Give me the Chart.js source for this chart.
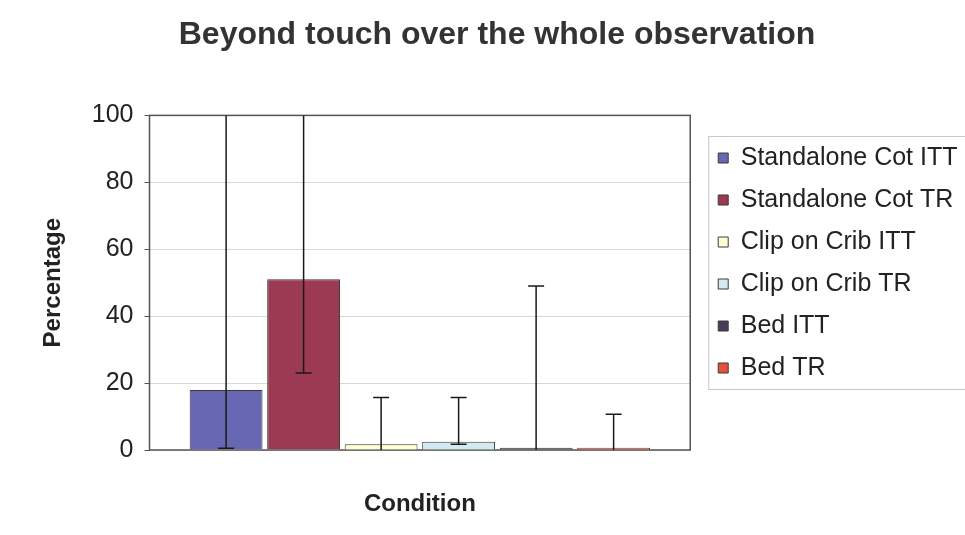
<!DOCTYPE html>
<html>
<head>
<meta charset="utf-8">
<script src="https://cdn.jsdelivr.net/npm/chart.js@4/dist/chart.umd.min.js"></script>
<style>
  html, body { margin: 0; padding: 0; background: #ffffff; }
  #wrap { width: 965px; height: 535px; }
</style>
</head>
<body>
<div id="wrap"><canvas id="myChart" width="965" height="535"></canvas></div>
<script>
// series names (one bar each, single category)
var conditions = ['Standalone Cot ITT', 'Standalone Cot TR', 'Clip on Crib ITT', 'Clip on Crib TR', 'Bed ITT', 'Bed TR'];
// bar heights (%)
var percentages = [17.9, 51.0, 1.7, 2.5, 0.7, 0.7];
// error bar ends (%)
var errorLow = [0.5, 23.0, 0.0, 1.7, 0.0, 0.0];
var errorHigh = [100, 100, 15.7, 15.7, 49.0, 10.7];
// y axis ticks
var yTicks = [0, 20, 40, 60, 80, 100];

var barColors = ['#6767b3', '#9b3a52', '#ffffd2', '#d2eaf0', '#4b3b58', '#e6503f'];

var FONT = "'Liberation Sans', Arial, sans-serif";

// ohraniceni grafu
var plotBorder = {
    id: 'plotBorder',
    beforeDatasetsDraw: function (chart) {
        var a = chart.chartArea;
        var ctx = chart.ctx;
        ctx.save();
        ctx.strokeStyle = '#555555';
        ctx.lineWidth = 1.5;
        ctx.strokeRect(a.left, a.top, a.right - a.left, a.bottom - a.top);
        ctx.restore();
    }
};

// chybove useky
var errorBars = {
    id: 'errorBars',
    afterDatasetsDraw: function (chart) {
        var ctx = chart.ctx;
        var y = chart.scales.y;
        ctx.save();
        ctx.strokeStyle = '#1a1a1a';
        ctx.lineWidth = 1.5;
        chart.data.datasets.forEach(function (ds, i) {
            var bar = chart.getDatasetMeta(i).data[0];
            if (!bar) return;
            var yl = y.getPixelForValue(errorLow[i]);
            var yh = y.getPixelForValue(errorHigh[i]);
            ctx.beginPath();
            ctx.moveTo(bar.x, yl);
            ctx.lineTo(bar.x, yh);
            if (errorHigh[i] < 100) {
                ctx.moveTo(bar.x - 8, yh);
                ctx.lineTo(bar.x + 8, yh);
            }
            if (errorLow[i] > 0) {
                ctx.moveTo(bar.x - 8, yl);
                ctx.lineTo(bar.x + 8, yl);
            }
            ctx.stroke();
        });
        ctx.restore();
    }
};

// sirka legendy doladena rucne
var legendWidth = {
    id: 'legendWidth',
    afterInit: function (chart) {
        var lg = chart.legend;
        if (!lg) return;
        var origFit = lg.fit;
        lg.fit = function () {
            origFit.call(this);
            this.width -= 2.5;
        };
    }
};

// ramecek legendy
var legendFrame = {
    id: 'legendFrame',
    afterDraw: function (chart) {
        var lg = chart.legend;
        if (!lg || !lg.legendHitBoxes || !lg.legendHitBoxes.length) return;
        var boxes = lg.legendHitBoxes;
        var top = boxes[0].top - 9;
        var bottom = boxes[boxes.length - 1].top + boxes[boxes.length - 1].height + 9;
        var ctx = chart.ctx;
        ctx.save();
        ctx.strokeStyle = '#c8c8c8';
        ctx.lineWidth = 1;
        ctx.strokeRect(lg.left + 7.5, top, chart.width, bottom - top);
        ctx.restore();
    }
};

var datasets = conditions.map(function (name, i) {
    return {
        label: name,
        data: [percentages[i]],
        backgroundColor: barColors[i],
        borderColor: '#3a3a3a',
        borderWidth: 1,
        categoryPercentage: 0.86,
        barPercentage: 0.94
    };
});

var ctx = document.getElementById('myChart');

if (ctx) {
    var myChart = new Chart(ctx, {
        type: 'bar',
        data: {
            labels: [''],
            datasets: datasets
        },
        options: {
            responsive: false,
            animation: false,
            devicePixelRatio: 1,
            layout: {
                padding: { left: 29, right: 0, top: 0, bottom: 9 }
            },
            scales: {
                x: {
                    grid: { display: false, drawTicks: false },
                    border: { display: false },
                    ticks: { display: false },
                    title: {
                        display: true,
                        text: 'Condition',
                        color: '#222222',
                        font: { family: FONT, size: 24, weight: 'bold', lineHeight: '25px' },
                        padding: { top: 41.5, bottom: 9.5 }
                    }
                },
                y: {
                    min: 0,
                    max: 100,
                    afterBuildTicks: function (scale) {
                        scale.ticks = yTicks.map(function (v) { return { value: v }; });
                    },
                    grid: {
                        color: '#d8d8d8',
                        tickColor: '#555555',
                        tickLength: 5,
                        lineWidth: 1
                    },
                    border: { display: false },
                    ticks: {
                        color: '#222222',
                        padding: 11,
                        font: { family: FONT, size: 25 }
                    },
                    title: {
                        display: true,
                        text: 'Percentage',
                        color: '#222222',
                        font: { family: FONT, size: 24, weight: 'bold' },
                        padding: { top: 10, bottom: 13 }
                    }
                },
                gap: {
                    type: 'linear',
                    position: 'right',
                    display: true,
                    grid: { display: false, drawTicks: false },
                    border: { display: false },
                    ticks: { display: false },
                    afterFit: function (scale) { scale.width = 11; }
                }
            },
            plugins: {
                title: {
                    display: true,
                    text: 'Beyond touch over the whole observation',
                    color: '#333333',
                    font: { family: FONT, size: 32, weight: 'bold' },
                    padding: { top: 16, bottom: 61 }
                },
                legend: {
                    position: 'right',
                    align: 'center',
                    maxWidth: 400,
                    onClick: function (event) {
                        // legenda se nema skryvat
                    },
                    labels: {
                        boxWidth: 10,
                        boxHeight: 10,
                        padding: 17,
                        color: '#222222',
                        font: { family: FONT, size: 25 }
                    }
                },
                tooltip: { enabled: false }
            }
        },
        plugins: [plotBorder, errorBars, legendWidth, legendFrame]
    });
} else {
    console.error("Canvas element with ID 'myChart' not found.");
}
</script>
</body>
</html>
